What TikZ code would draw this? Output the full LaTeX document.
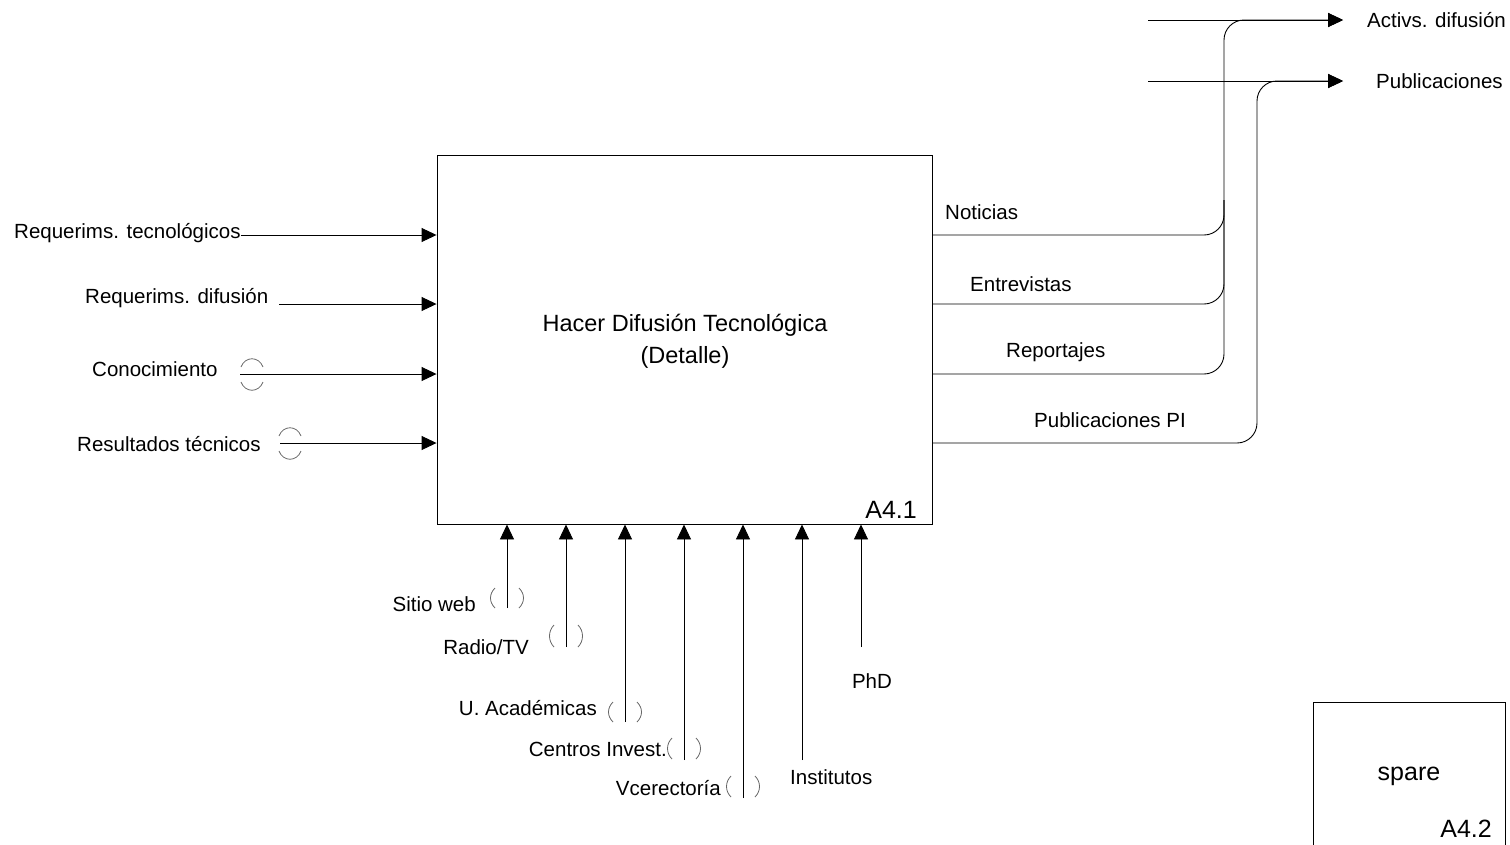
\documentclass[tikz,border=0pt]{standalone}
\usepackage{fontspec}
\setmainfont{Liberation Sans}
\usetikzlibrary{arrows.meta}
\begin{document}
\begin{tikzpicture}[x=1pt,y=-1pt,
  flow/.style={line width=0.9pt,draw=black},
  arr/.style={flow,-{Triangle[length=15pt,width=14pt]}},
  tun/.style={line width=0.8pt,draw=black!60},
  lbl/.style={inner sep=0pt,font=\fontsize{20.5}{24}\selectfont},
  ttl/.style={inner sep=0pt,font=\fontsize{23.5}{28}\selectfont},
  ref/.style={inner sep=0pt,font=\fontsize{25}{30}\selectfont}]
\useasboundingbox (0,0) rectangle (1510,844);

% activity box
\node[flow,draw,rectangle,minimum width=495pt,minimum height=369pt,inner sep=0pt] (main) at (684.5,339.5) {};
\node[ttl] (title) at (685,325) {Hacer Difusión Tecnológica};
\node[ttl] (detail) at (685,357) {(Detalle)};
\node[ref,anchor=east] (a41) at (917,510) {A4.1};

% spare box (runs off the lower edge)
\draw[flow] (1313,846) -- (1313,702) -- (1505,702) -- (1505,846);
\node[ref] (spare) at (1409,776) {spare};
\node[ref,anchor=east] (a42) at (1492,829) {A4.2};

% ---- inputs (left side)
\node[lbl,anchor=west] (in1) at (14,233) {Requerims. tecnológicos};
\node[lbl,anchor=west] (in2) at (85,298) {Requerims. difusión};
\node[lbl,anchor=west] (in3) at (92,369) {Conocimiento};
\node[lbl,anchor=west] (in4) at (77,444) {Resultados técnicos};
\coordinate (s2) at (279,304);
\coordinate (s3) at (240,374);
\coordinate (s4) at (280,443);
\draw[arr] (in1.east |- 0,235) -- (main.west |- 0,235);
\draw[arr] (s2) -- (main.west |- s2);
\draw[arr] (s3) -- (main.west |- s3);
\draw[arr] (s4) -- (main.west |- s4);
% tunnel marks
\draw[tun] (241,367) .. controls (245,356) and (259,356) .. (263,367);
\draw[tun] (241,382) .. controls (245,393) and (259,393) .. (263,382);
\draw[tun] (279,436) .. controls (283,425) and (297,425) .. (301,436);
\draw[tun] (279,451) .. controls (283,462) and (297,462) .. (301,451);

% ---- mechanisms (bottom side)
\foreach \x/\yb/\name in {507/608/m1,566/647/m2,625/722/m3,684/760/m4,743/798/m5,802/760/m6,861/647/m7}{
  \coordinate (\name) at (\x,\yb);
  \draw[arr] (\name) -- (\name |- main.south);
}
\node[lbl,anchor=east] (l1) at (476,604) {Sitio web};
\node[lbl,anchor=east] (l2) at (529,647) {Radio/TV};
\node[lbl,anchor=east] (l3) at (597,708) {U. Académicas};
\node[lbl,anchor=east] (l4) at (667,749) {Centros Invest.};
\node[lbl,anchor=east] (l5) at (721,788) {Vcerectoría};
\node[lbl,anchor=west] (l6) at (790,777) {Institutos};
\node[lbl] (l7) at (872,681) {PhD};
% tunnel brackets
\foreach \x/\ya/\yb in {507/588/608,566/625/647,625/702/722,684/738/759,743/776/797}{
  \draw[tun] (\x-12,\ya) .. controls (\x-18,\ya+6) and (\x-18,\yb-6) .. (\x-12,\yb);
  \draw[tun] (\x+12,\ya) .. controls (\x+18,\ya+6) and (\x+18,\yb-6) .. (\x+12,\yb);
}

% ---- outputs (right side)
\node[lbl,anchor=west] (o1) at (945,212) {Noticias};
\node[lbl,anchor=west] (o2) at (970,284) {Entrevistas};
\node[lbl,anchor=west] (o3) at (1006,352) {Reportajes};
\node[lbl,anchor=west] (o4) at (1034,420) {Publicaciones PI};
\node[lbl,anchor=west] (r1) at (1367,20) {Activs. difusión};
\node[lbl,anchor=west] (r2) at (1376,81) {Publicaciones};
\coordinate (t1) at (1343,20);
\coordinate (t2) at (1343,81);
\coordinate (b1) at (1224,20);
\coordinate (b2) at (1257,81);
\coordinate (st1) at (1148,20);
\coordinate (st2) at (1148,81);
\coordinate (j1) at (1224,200);

\draw[arr,rounded corners=20pt] (main.east |- 0,235) -| (b1) -- (t1);
\draw[flow,rounded corners=20pt] (main.east |- 0,304) -| (j1);
\draw[flow,rounded corners=20pt] (main.east |- 0,374) -| (j1);
\draw[arr,rounded corners=20pt] (main.east |- 0,443) -| (b2) -- (t2);
\draw[arr] (st1) -- (t1);
\draw[arr] (st2) -- (t2);
\end{tikzpicture}
\end{document}
